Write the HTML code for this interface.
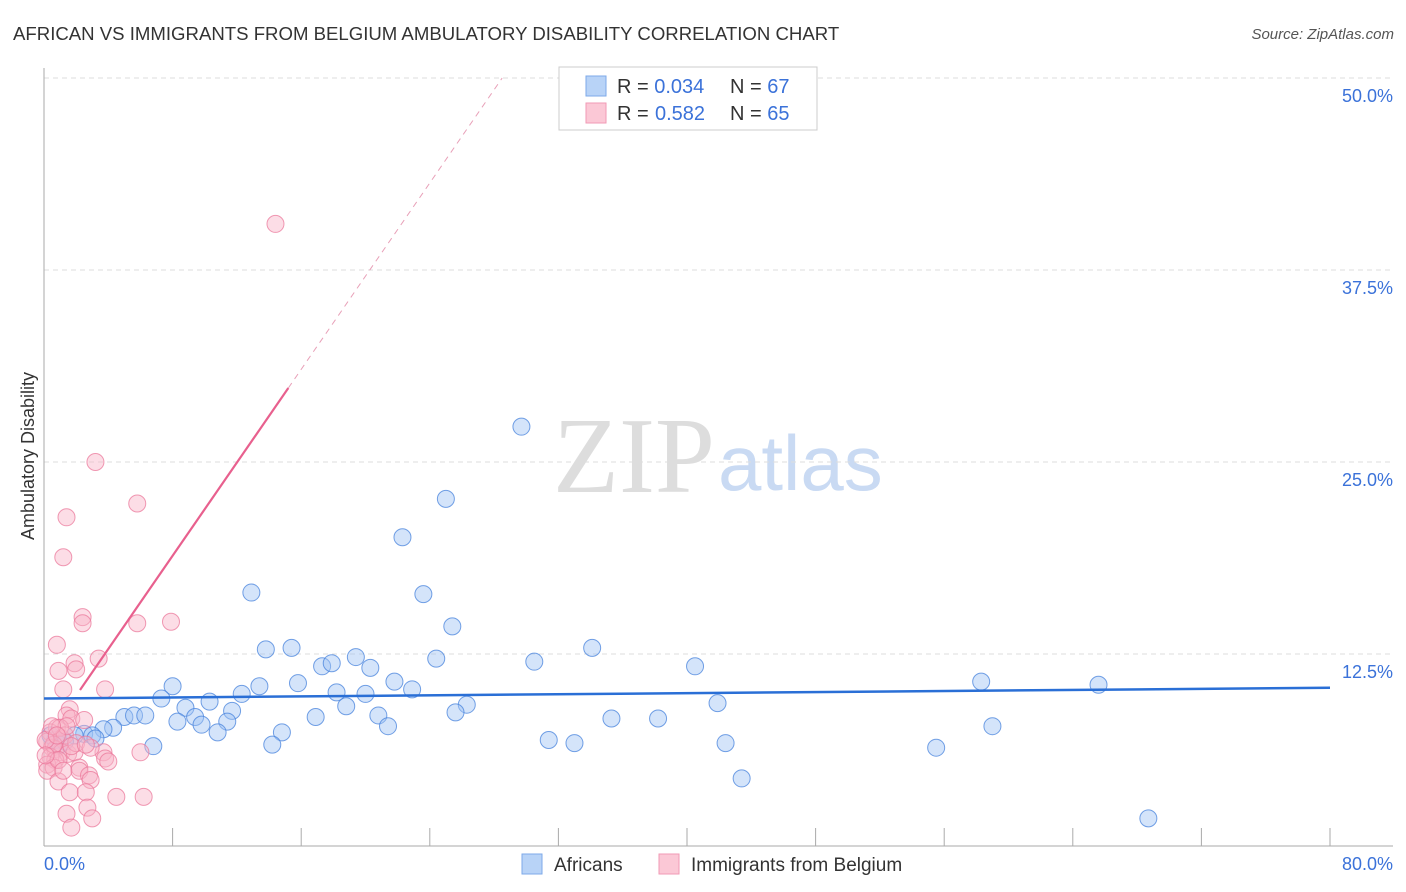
<!DOCTYPE html>
<html><head><meta charset="utf-8"><style>
body{margin:0;background:#fff;font-family:"Liberation Sans",sans-serif}
#wrap{position:relative;width:1406px;height:892px;overflow:hidden}
</style></head><body>
<div id="wrap">
<svg id="chart" width="1406" height="892">
<text x="13" y="40" font-size="18.6" fill="#333">AFRICAN VS IMMIGRANTS FROM BELGIUM AMBULATORY DISABILITY CORRELATION CHART</text>
<text x="1394" y="39" font-size="15" fill="#555" font-style="italic" text-anchor="end">Source: ZipAtlas.com</text>
<text x="553" y="492" font-size="108" fill="#ddd" font-family="Liberation Serif,serif">ZIP</text>
<text x="718" y="490" font-size="78" fill="#c9daf3">atlas</text>
<g id="grid"></g><g id="axes"></g><g id="marks"></g>
<text transform="translate(34,456) rotate(-90)" font-size="18" fill="#333" text-anchor="middle">Ambulatory Disability</text>
<g>
<rect x="559" y="67" width="258" height="63" fill="#fff" stroke="#ccc"/>
<rect x="586" y="76" width="20" height="20" fill="#b8d3f7" stroke="#7eaae8"/>
<rect x="586" y="103" width="20" height="20" fill="#fbc8d6" stroke="#f19ab5"/>
<text x="617" y="93" font-size="20" fill="#333">R = <tspan fill="#3b72d9">0.034</tspan><tspan x="730">N = </tspan><tspan fill="#3b72d9">67</tspan></text>
<text x="617" y="120" font-size="20" fill="#333">R = <tspan fill="#3b72d9" x="655">0.582</tspan><tspan x="730">N = </tspan><tspan fill="#3b72d9">65</tspan></text>
</g>
<g>
<rect x="522" y="854" width="20" height="20" fill="#b8d3f7" stroke="#7eaae8"/>
<text x="554" y="871" font-size="19" fill="#333">Africans</text>
<rect x="659" y="854" width="20" height="20" fill="#fbc8d6" stroke="#f19ab5"/>
<text x="691" y="871" font-size="19" fill="#333">Immigrants from Belgium</text>
</g>
</svg></div>
<script>
const yTicks=[12.5,25,37.5,50];
const yTickLabels=["12.5%","25.0%","37.5%","50.0%"];
const xTickLabels=["0.0%","80.0%"];
const africanX=[29.7,25.0,22.3,23.6,12.9,25.4,34.1,13.8,15.4,19.4,24.4,30.5,17.3,17.9,20.3,40.5,58.3,65.6,15.8,21.8,8.0,13.4,22.9,12.3,18.2,20.0,7.3,10.3,8.8,18.8,26.3,41.9,11.7,25.6,16.9,5.0,5.6,6.3,9.4,20.8,35.3,38.2,8.3,9.8,11.4,21.4,59.0,4.3,3.7,10.8,14.8,2.5,3.0,1.9,3.2,6.8,14.2,31.4,33.0,42.4,55.5,43.4,68.7,0.7,1.0,1.3,0.4];
const africanY=[27.3,22.6,20.1,16.4,16.5,14.3,12.9,12.8,12.9,12.3,12.2,12.0,11.7,11.9,11.6,11.7,10.7,10.5,10.6,10.7,10.4,10.4,10.2,9.9,10.0,9.9,9.6,9.4,9.0,9.1,9.2,9.3,8.8,8.7,8.4,8.4,8.5,8.5,8.4,8.5,8.3,8.3,8.1,7.9,8.1,7.8,7.8,7.7,7.6,7.4,7.4,7.3,7.2,7.2,7.0,6.5,6.6,6.9,6.7,6.7,6.4,4.4,1.8,6.9,6.6,6.8,7.2];
const belgiumX=[14.4,3.2,5.8,1.4,1.2,2.4,2.4,5.8,7.9,0.8,3.4,1.9,2.0,0.9,1.2,3.8,1.6,1.4,1.7,2.5,0.8,0.4,1.1,0.2,0.5,0.7,1.1,1.5,1.9,0.4,0.7,0.2,0.6,0.2,3.7,3.8,4.0,6.0,2.2,2.2,2.8,2.9,0.9,1.6,2.6,4.5,6.2,2.7,1.4,3.0,1.7,1.0,1.3,0.6,0.9,1.2,0.1,0.1,1.4,2.0,2.9,0.5,1.7,2.6,0.8];
const belgiumY=[40.5,25.0,22.3,21.4,18.8,14.9,14.5,14.5,14.6,13.1,12.2,11.9,11.5,11.4,10.2,10.2,8.9,8.5,8.3,8.2,7.7,7.4,7.0,6.8,6.4,6.3,6.1,6.0,6.1,5.8,5.6,5.3,5.1,4.9,6.1,5.7,5.5,6.1,5.1,4.9,4.6,4.3,4.2,3.5,3.5,3.2,3.2,2.5,2.1,1.8,1.2,7.7,7.2,6.6,5.6,4.9,6.9,5.9,7.8,6.7,6.4,7.8,6.5,6.6,7.2];
const africanTrend=[0,9.6,80,10.3];
const belgiumTrend=[2.24,6.76,1.517,15.2,28.5];
const NS="http://www.w3.org/2000/svg";
const X=v=>44+v*16.075, Y=v=>846-v*15.36;
function mk(p,t,a,name){const e=document.createElementNS(NS,t);for(const k in a)e.setAttribute(k,a[k]);


p.appendChild(e);return e;}
const grid=document.getElementById('grid'),axes=document.getElementById('axes'),marks=document.getElementById('marks');
yTicks.forEach((t,i)=>{
 mk(grid,'line',{x1:44,x2:1393,y1:Y(t),y2:Y(t),stroke:'#ddd','stroke-dasharray':'5,4'},'y-gridline');
 const tx=mk(axes,'text',{x:1393,y:Y(t)+24,'font-size':18,fill:'#3b72d9','text-anchor':'end'},'y-tick-label');tx.textContent=yTickLabels[i];
});
mk(axes,'line',{x1:44,x2:44,y1:68,y2:846,stroke:'#aaa'},'y-axis-line');
mk(axes,'line',{x1:44,x2:1393,y1:846,y2:846,stroke:'#aaa'},'x-axis-line');
for(let i=1;i<=10;i++)mk(axes,'line',{x1:X(i*8),x2:X(i*8),y1:828,y2:846,stroke:'#aaa'},'x-tick');
let t0=mk(axes,'text',{x:44,y:870,'font-size':18,fill:'#3b72d9'},'x-tick-label');t0.textContent=xTickLabels[0];
let t1=mk(axes,'text',{x:1393,y:870,'font-size':18,fill:'#3b72d9','text-anchor':'end'},'x-tick-label');t1.textContent=xTickLabels[1];
africanX.forEach((x,i)=>mk(marks,'circle',{cx:X(x),cy:Y(africanY[i]),r:8.5,fill:'rgba(160,196,244,0.45)',stroke:'rgba(70,130,220,0.75)','stroke-width':1},'african-point'));
belgiumX.forEach((x,i)=>mk(marks,'circle',{cx:X(x),cy:Y(belgiumY[i]),r:8.5,fill:'rgba(248,180,200,0.45)',stroke:'rgba(235,120,155,0.75)','stroke-width':1},'belgium-point'));
mk(marks,'line',{x1:X(africanTrend[0]),y1:Y(africanTrend[1]),x2:X(africanTrend[2]),y2:Y(africanTrend[3]),stroke:'#2a6fd6','stroke-width':2.5},'african-trendline');
const bf=x=>belgiumTrend[1]+belgiumTrend[2]*x;
mk(marks,'line',{x1:X(belgiumTrend[0]),y1:Y(bf(belgiumTrend[0])),x2:X(belgiumTrend[3]),y2:Y(bf(belgiumTrend[3])),stroke:'#e8608e','stroke-width':2.2},'belgium-trendline');
mk(marks,'line',{x1:X(belgiumTrend[3]),y1:Y(bf(belgiumTrend[3])),x2:X(belgiumTrend[4]),y2:Y(bf(belgiumTrend[4])),stroke:'#e8a0b8','stroke-width':1,'stroke-dasharray':'6,5'},'belgium-trendline-extension');
</script></body></html>
